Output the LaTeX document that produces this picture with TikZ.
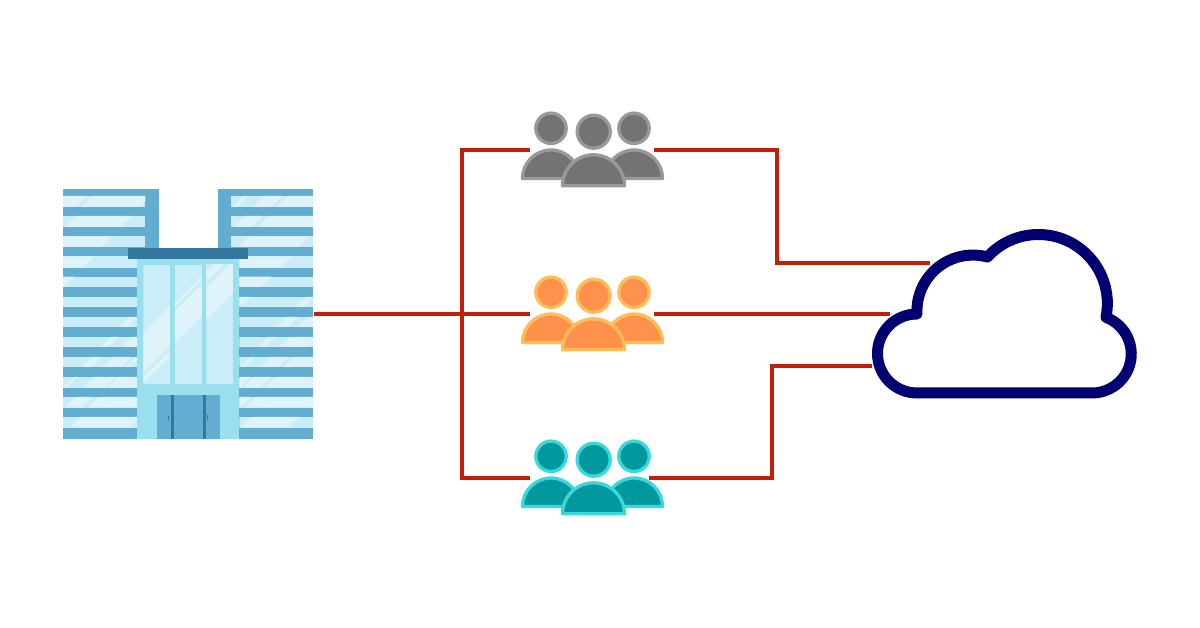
\documentclass[tikz,border=0pt]{standalone}
\definecolor{wire}{HTML}{C11E0B}
\definecolor{navy}{HTML}{000073}
\definecolor{bldg}{HTML}{63ADD0}
\definecolor{roofc}{HTML}{33779F}
\definecolor{facade}{HTML}{9ADFEC}
\definecolor{glassa}{HTML}{CBEDF8}
\definecolor{glassb}{HTML}{DFF3FA}
\definecolor{grayf}{HTML}{737373}
\definecolor{grays}{HTML}{999999}
\definecolor{orgf}{HTML}{FF914D}
\definecolor{orgs}{HTML}{FFBD59}
\definecolor{tealf}{HTML}{03989E}
\definecolor{teals}{HTML}{38D9DC}
\tikzset{
  wireline/.style={draw=wire,line width=3.7pt,line join=miter},
  cloudline/.style={draw=navy,line width=11pt,line join=round},
  personline/.style={line width=3.3pt,line join=round}
}
% window row: #1 x-left, #2 x-right, #3 y-top, #4 y-bottom, #5 list of light bands a/b (x at row bottom)
\newcommand{\winrow}[5]{%
  \begin{scope}
    \clip (#1,#3) rectangle (#2,#4);
    \fill[glassa] (#1,#3) rectangle (#2,#4);
    \foreach \ba/\bb in {#5}{
      \fill[glassb] (\ba,#4) -- (\bb,#4) -- ({\bb+#4-#3},#3) -- ({\ba+#4-#3},#3) -- cycle;
    }
  \end{scope}}
% glass panel diagonal band between c1 and c2, x+y=c
\newcommand{\glassband}[2]{\fill[glassb] ({#1-700},700) -- ({#2-700},700) -- ({#2-200},200) -- ({#1-200},200) -- cycle;}
\newcommand{\stripe}[2]{\fill[glassa] ({#1-700},700) -- ({#2-700},700) -- ({#2-200},200) -- ({#1-200},200) -- cycle;}
% people group
\newcommand{\peoplegroup}[3]{%
  \begin{scope}[yshift=#1pt,personline,fill=#2,draw=#3]
    \filldraw (522.5,178.5) arc (180:360:28.5) -- cycle;
    \filldraw (605.5,178.5) arc (180:360:28.5) -- cycle;
    \filldraw (562.5,185.8) arc (180:360:31) -- cycle;
    \filldraw (551,128.3) circle (15.2);
    \filldraw (634,128.3) circle (15.2);
    \filldraw (593.7,131.7) circle (16.5);
  \end{scope}}
\begin{document}
\begin{tikzpicture}[x=1pt,y=1pt,yscale=-1]
\useasboundingbox (0,0) rectangle (1200,628);
\fill[white] (0,0) rectangle (1200,628);

% ---------- building
\begin{scope}[shift={(50,180)},x=0.3333pt,y=0.3333pt]
  \fill[bldg] (39,27) rectangle (326,777);
  \fill[bldg] (503,27) rectangle (790,777);
  % left wing windows
  \winrow{39}{286}{48}{81}{-40/78,93/270}
  \winrow{39}{286}{108}{141}{45/213}
  \winrow{39}{286}{169}{201}{-50/155}
  \winrow{39}{261}{229}{263}{-50/100}
  \winrow{39}{261}{290}{321}{-50/42}
  \winrow{39}{261}{351}{381}{300/301}
  \winrow{39}{261}{411}{441}{207/233}
  \winrow{39}{261}{471}{501}{152/175,215/280}
  \winrow{39}{261}{531}{561}{95/125,158/215,228/240}
  \winrow{39}{261}{591}{623}{40/50,100/165,172/280}
  \winrow{39}{261}{651}{683}{45/95,115/280}
  \winrow{39}{261}{711}{743}{60/240}
  % right wing windows
  \winrow{543}{790}{48}{81}{548/560,610/665,680/800}
  \winrow{543}{790}{108}{141}{553/605,622/800}
  \winrow{543}{790}{169}{201}{568/745}
  \winrow{568}{790}{229}{263}{500/690}
  \winrow{568}{790}{290}{321}{500/633}
  \winrow{568}{790}{351}{381}{540/570,738/760}
  \winrow{568}{790}{411}{441}{680/715,745/800}
  \winrow{568}{790}{471}{501}{627/645,690/755,757/775}
  \winrow{568}{790}{531}{561}{570/585,632/685,700/800}
  \winrow{568}{790}{591}{623}{540/570,580/630,645/800}
  \winrow{568}{790}{651}{683}{540/570,585/800}
  \winrow{568}{790}{711}{743}{570/715}
  % centre block
  \fill[facade] (261,237) rectangle (568,777);
  \fill[roofc] (235,205) rectangle (594,237);
  % glass panel 1
  \begin{scope}
    \clip (280,255) rectangle (360,612);
    \fill[glassa] (280,255) rectangle (360,612);
    \glassband{738}{890}
    \stripe{858}{872}
  \end{scope}
  % glass panel 2
  \begin{scope}
    \clip (375,255) rectangle (456,612);
    \fill[glassa] (375,255) rectangle (456,612);
    \glassband{745}{865}
    \stripe{755}{768}
  \end{scope}
  % glass panel 3
  \begin{scope}
    \clip (469,255) rectangle (549,612);
    \fill[glassa] (469,255) rectangle (549,612);
    \glassband{700}{889}
    \stripe{725}{745}
    \stripe{775}{790}
  \end{scope}
  % door
  \fill[bldg] (321,645) rectangle (510,777);
  \fill[roofc] (363,645) rectangle (372,777);
  \fill[roofc] (459,645) rectangle (468,777);
  \fill[roofc] (354,707) rectangle (357,720);
  \fill[roofc] (471,705) rectangle (474,720);
\end{scope}

% ---------- people
\peoplegroup{0}{grayf}{grays}
\peoplegroup{164}{orgf}{orgs}
\peoplegroup{328}{tealf}{teals}

% ---------- cloud
\draw[cloudline] (917,393) arc (90:270:39.5)
  arc (177:285:56) arc (222.4:371.6:69) arc (290.6:450:39.05) -- cycle;

% ---------- anchors
\coordinate (bldgout) at (313.5,314.3);
\coordinate (grayL) at (530,150.3);
\coordinate (grayR) at (654,150.3);
\coordinate (orgL) at (530,314.3);
\coordinate (orgR) at (654,314.3);
\coordinate (tealL) at (530,478.3);
\coordinate (tealR) at (649,478.3);
\coordinate (cloudA) at (930,263.3);
\coordinate (cloudB) at (890,314.3);
\coordinate (cloudC) at (872,366.3);
\coordinate (busT) at (461.7,150.3);
\coordinate (busB) at (461.7,478.3);
\coordinate (upper) at (777.3,150.3);
\coordinate (lower) at (772.3,478.3);

% ---------- connectors
\draw[wireline] (bldgout) -- (orgL);
\draw[wireline] (grayL) -- (busT) -- (busB) -- (tealL);
\draw[wireline] (grayR) -- (upper) -- (upper |- cloudA) -- (cloudA);
\draw[wireline] (orgR) -- (cloudB);
\draw[wireline] (tealR) -- (lower) -- (lower |- cloudC) -- (cloudC);
\end{tikzpicture}
\end{document}
